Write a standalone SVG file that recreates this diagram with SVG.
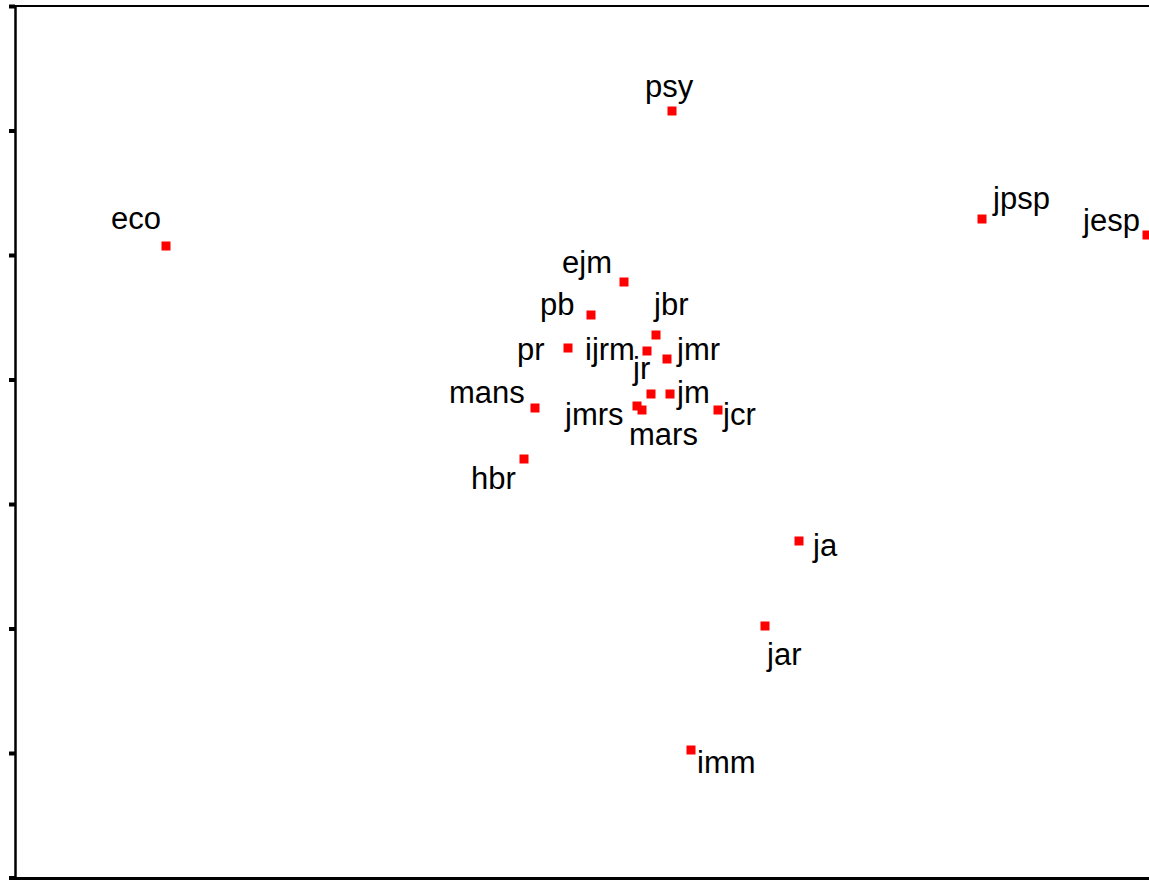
<svg xmlns="http://www.w3.org/2000/svg" width="1149" height="884" viewBox="0 0 1149 884">
<style>
.pt{fill:#ff0000;}
.lb{font-family:"Liberation Sans",Arial,sans-serif;font-size:31px;fill:#000;}
.ax{stroke:#000;fill:none;}
</style>
<defs>
<rect id="m" class="pt" x="-4.5" y="-4.5" width="9" height="9"/>
</defs>
<rect width="1149" height="884" fill="#fff"/>
<g id="axes">
<line class="ax" x1="15.5" y1="6" x2="15.5" y2="880" stroke-width="2.5"/>
<line class="ax" x1="14" y1="6" x2="1149" y2="6" stroke-width="2"/>
<line class="ax" x1="14" y1="878.5" x2="1149" y2="878.5" stroke-width="3"/>
<g stroke="#000" stroke-width="4">
<line x1="9" y1="6.5" x2="15" y2="6.5"/>
<line x1="9" y1="131" x2="15" y2="131"/>
<line x1="9" y1="255.5" x2="15" y2="255.5"/>
<line x1="9" y1="380" x2="15" y2="380"/>
<line x1="9" y1="504.5" x2="15" y2="504.5"/>
<line x1="9" y1="629" x2="15" y2="629"/>
<line x1="9" y1="753.5" x2="15" y2="753.5"/>
<line x1="9" y1="878" x2="15" y2="878"/>
</g>
</g>
<g id="connectors"/>
<g id="psy"><use href="#m" x="672" y="111"/><text class="lb" x="645" y="97">psy</text></g>
<g id="eco"><use href="#m" x="166" y="246"/><text class="lb" x="111" y="229">eco</text></g>
<g id="jpsp"><use href="#m" x="982" y="219"/><text class="lb" x="993" y="209">jpsp</text></g>
<g id="jesp"><use href="#m" x="1147" y="235"/><text class="lb" x="1083" y="231">jesp</text></g>
<g id="ejm"><use href="#m" x="624" y="282"/><text class="lb" x="562" y="273">ejm</text></g>
<g id="pb"><use href="#m" x="591" y="315"/><text class="lb" x="540" y="315">pb</text></g>
<g id="jbr"><use href="#m" x="656" y="335"/><text class="lb" x="654" y="315">jbr</text></g>
<g id="pr"><use href="#m" x="568" y="348"/><text class="lb" x="517" y="360">pr</text></g>
<g id="ijrm"><use href="#m" x="647" y="351"/><text class="lb" x="585" y="360">ijrm</text></g>
<g id="jmr"><use href="#m" x="667" y="359"/><text class="lb" x="677" y="360">jmr</text></g>
<g id="jr"><use href="#m" x="651" y="394"/><text class="lb" x="633" y="379">jr</text></g>
<g id="jm"><use href="#m" x="670" y="394"/><text class="lb" x="677" y="403">jm</text></g>
<g id="mans"><use href="#m" x="535" y="408"/><text class="lb" x="449" y="403">mans</text></g>
<g id="jmrs"><use href="#m" x="637" y="406"/><text class="lb" x="565" y="425">jmrs</text></g>
<g id="mars"><use href="#m" x="642" y="410"/><text class="lb" x="629" y="445">mars</text></g>
<g id="jcr"><use href="#m" x="718" y="410"/><text class="lb" x="723" y="425">jcr</text></g>
<g id="hbr"><use href="#m" x="524" y="459"/><text class="lb" x="471" y="489">hbr</text></g>
<g id="ja"><use href="#m" x="799" y="541"/><text class="lb" x="813" y="556">ja</text></g>
<g id="jar"><use href="#m" x="765" y="626"/><text class="lb" x="767" y="665">jar</text></g>
<g id="imm"><use href="#m" x="691" y="750"/><text class="lb" x="697" y="773">imm</text></g>
</svg>
